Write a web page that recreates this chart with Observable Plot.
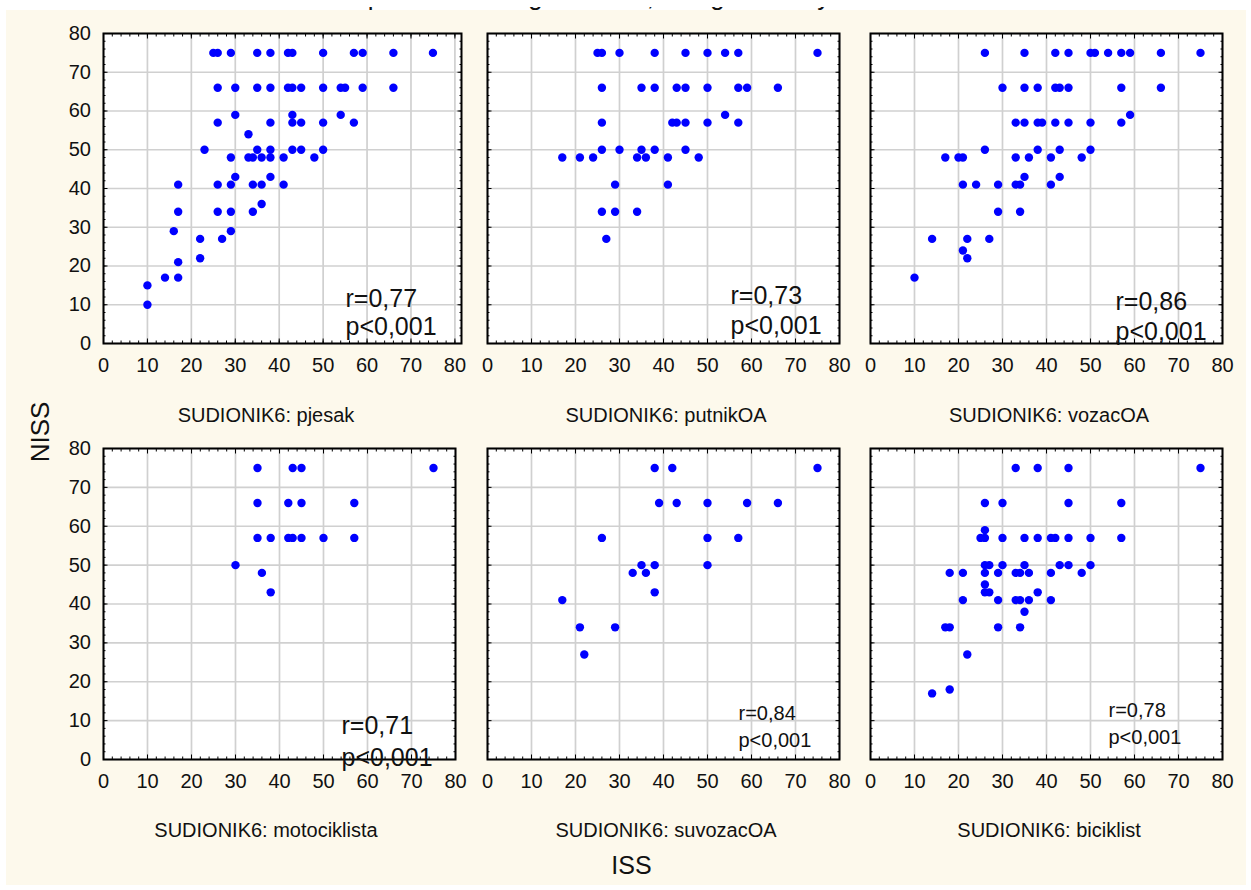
<!DOCTYPE html>
<html>
<head>
<meta charset="utf-8">
<script src="https://cdn.jsdelivr.net/npm/d3@7"></script>
<script src="https://cdn.jsdelivr.net/npm/@observablehq/plot@0.6"></script>
<style>
  html, body { margin: 0; padding: 0; background: #ffffff; }
  #page { position: relative; width: 1251px; height: 890px; overflow: hidden;
          font-family: "Liberation Sans", Arial, sans-serif; }
  #bg { position: absolute; left: 6px; top: 10px; width: 1240px; height: 875px; background: #fdf9ec; }
  #titleClip { position: absolute; left: 0; top: 7px; width: 1251px; height: 9px; overflow: hidden; }
  #title { position: absolute; left: 0; top: -24px; width: 1263px; text-align: center;
           font-size: 26px; line-height: 26px; color: #111; white-space: nowrap; }
  .panel { position: absolute; }
  #overlay { position: absolute; left: 0; top: 0; pointer-events: none; }
</style>
</head>
<body>
<div id="page">
  <div id="bg"></div>
  <div id="titleClip"><div id="title"></div></div>
</div>
<script>
// ---------- data ----------
const chartTitle = "Scatterplot of NISS against ISS; categorized by SUDIONIK6";
const xTitle = "ISS";
const yTitle = "NISS";
const groups = ["pjesak", "putnikOA", "vozacOA", "motociklista", "suvozacOA", "biciklist"];
const groupPrefix = "SUDIONIK6: ";
const rValues = ["r=0,77", "r=0,73", "r=0,86", "r=0,71", "r=0,84", "r=0,78"];
const pValue = "p<0,001";
const xTicks = [0, 10, 20, 30, 40, 50, 60, 70, 80];
const yTicks = [0, 10, 20, 30, 40, 50, 60, 70, 80];

// [ISS, NISS]
const pjesak = [
  [25,75],[26,75],[29,75],[35,75],[38,75],[42,75],[43,75],[50,75],[57,75],[59,75],[66,75],[75,75],
  [26,66],[30,66],[35,66],[38,66],[42,66],[43,66],[45,66],[50,66],[54,66],[55,66],[59,66],[66,66],
  [30,59],[43,59],[54,59],
  [26,57],[38,57],[43,57],[45,57],[50,57],[57,57],
  [33,54],
  [23,50],[35,50],[38,50],[43,50],[45,50],[50,50],
  [29,48],[33,48],[34,48],[36,48],[38,48],[41,48],[48,48],
  [30,43],[38,43],
  [17,41],[26,41],[29,41],[34,41],[36,41],[41,41],
  [36,36],
  [17,34],[26,34],[29,34],[34,34],
  [16,29],[29,29],
  [22,27],[27,27],
  [22,22],
  [17,21],
  [14,17],[17,17],
  [10,15],
  [10,10]
];
const putnikOA = [
  [25,75],[26,75],[30,75],[38,75],[45,75],[50,75],[54,75],[57,75],[75,75],
  [26,66],[35,66],[38,66],[43,66],[45,66],[50,66],[57,66],[59,66],[66,66],
  [54,59],
  [26,57],[42,57],[43,57],[45,57],[50,57],[57,57],
  [26,50],[30,50],[35,50],[38,50],[45,50],
  [17,48],[21,48],[24,48],[34,48],[36,48],[41,48],[48,48],
  [29,41],[41,41],
  [26,34],[29,34],[34,34],
  [27,27]
];
const vozacOA = [
  [26,75],[35,75],[42,75],[45,75],[50,75],[51,75],[54,75],[57,75],[59,75],[66,75],[75,75],
  [30,66],[35,66],[38,66],[42,66],[43,66],[45,66],[57,66],[66,66],
  [59,59],
  [33,57],[35,57],[38,57],[39,57],[42,57],[45,57],[50,57],[57,57],
  [26,50],[38,50],[43,50],[50,50],
  [17,48],[20,48],[21,48],[33,48],[36,48],[41,48],[48,48],
  [35,43],[43,43],
  [21,41],[24,41],[29,41],[33,41],[34,41],[41,41],
  [29,34],[34,34],
  [14,27],[22,27],[27,27],
  [21,24],
  [22,22],
  [10,17]
];
const motociklista = [
  [35,75],[43,75],[45,75],[75,75],
  [35,66],[42,66],[45,66],[57,66],
  [35,57],[38,57],[42,57],[43,57],[45,57],[50,57],[57,57],
  [30,50],
  [36,48],
  [38,43]
];
const suvozacOA = [
  [38,75],[42,75],[75,75],
  [39,66],[43,66],[50,66],[59,66],[66,66],
  [26,57],[50,57],[57,57],
  [35,50],[38,50],[50,50],
  [33,48],[36,48],
  [38,43],
  [17,41],
  [21,34],[29,34],
  [22,27]
];
const biciklist = [
  [33,75],[38,75],[45,75],[75,75],
  [26,66],[30,66],[45,66],[57,66],
  [26,59],
  [25,57],[26,57],[30,57],[35,57],[38,57],[41,57],[42,57],[45,57],[50,57],[57,57],
  [26,50],[27,50],[30,50],[35,50],[43,50],[45,50],[50,50],
  [18,48],[21,48],[26,48],[29,48],[33,48],[34,48],[36,48],[41,48],[48,48],
  [26,45],
  [26,43],[27,43],[38,43],
  [21,41],[29,41],[33,41],[34,41],[36,41],[41,41],
  [35,38],
  [17,34],[18,34],[29,34],[34,34],
  [22,27],
  [18,18],
  [14,17]
];
const panelData = [pjesak, putnikOA, vozacOA, motociklista, suvozacOA, biciklist];

// ---------- layout / style ----------
const FONT = "'Liberation Sans', Arial, sans-serif";
const ML = 60, MT = 10, MR = 14, MB = 50;
const layout = [
  {left: 103, top: 33,  w: 358, h: 310, xmax: 81.5, yLabels: true,  fs: 25, dx: 242, dyR: -37,   dyP: -9},
  {left: 487, top: 33,  w: 352, h: 310, xmax: 80,   yLabels: false, fs: 25, dx: 243, dyR: -40,   dyP: -10},
  {left: 870, top: 33,  w: 352, h: 310, xmax: 80,   yLabels: false, fs: 25, dx: 245, dyR: -33.5, dyP: -3.5},
  {left: 103, top: 448, w: 352, h: 311, xmax: 80,   yLabels: true,  fs: 25, dx: 238, dyR: -25.5, dyP: 6},
  {left: 487, top: 448, w: 352, h: 311, xmax: 80,   yLabels: false, fs: 20, dx: 251, dyR: -39.5, dyP: -13},
  {left: 870, top: 448, w: 352, h: 311, xmax: 80,   yLabels: false, fs: 20, dx: 238, dyR: -43,   dyP: -16}
];
const labelPos = [
  {x: 266, y: 421.5}, {x: 666, y: 421.5}, {x: 1049, y: 421.5},
  {x: 266, y: 836.5}, {x: 666, y: 836.5}, {x: 1049, y: 836.5}
];
const minorTicks = d3.range(0, 81, 2);

const page = document.getElementById("page");
document.getElementById("title").textContent = chartTitle;

panelData.forEach((data, i) => {
  const L = layout[i];
  const tickOnly = {tickFormat: () => "", label: null, stroke: "#000"};
  const chart = Plot.plot({
    width: L.w + ML + MR,
    height: L.h + MT + MB,
    marginLeft: ML, marginRight: MR, marginTop: MT, marginBottom: MB,
    x: {domain: [0, L.xmax]},
    y: {domain: [0, 80]},
    style: {background: "transparent", overflow: "visible", fontFamily: FONT, fontSize: "20px", color: "#111"},
    marks: [
      Plot.frame({fill: "#ffffff", stroke: null}),
      Plot.gridX(xTicks, {stroke: "#d0d0d0", strokeOpacity: 1, strokeWidth: 1.7}),
      Plot.gridY(yTicks, {stroke: "#d0d0d0", strokeOpacity: 1, strokeWidth: 1.7}),
      Plot.dot(data, {x: d => d[0], y: d => d[1], r: 4.2, fill: "#0000ff", stroke: null}),
      // inward minor & major ticks on all four sides
      Plot.axisX(minorTicks, {anchor: "top", tickSize: -2.5, ...tickOnly}),
      Plot.axisX(minorTicks, {anchor: "bottom", tickSize: -2.5, ...tickOnly}),
      Plot.axisY(minorTicks, {anchor: "left", tickSize: -2.5, ...tickOnly}),
      Plot.axisY(minorTicks, {anchor: "right", tickSize: -2.5, ...tickOnly}),
      Plot.axisX(xTicks, {anchor: "top", tickSize: -4.5, ...tickOnly}),
      Plot.axisX(xTicks, {anchor: "bottom", tickSize: -4.5, ...tickOnly}),
      Plot.axisY(yTicks, {anchor: "left", tickSize: -4.5, ...tickOnly}),
      Plot.axisY(yTicks, {anchor: "right", tickSize: -4.5, ...tickOnly}),
      Plot.frame({stroke: "#000", strokeWidth: 2}),
      // labelled axes
      Plot.axisX(xTicks, {anchor: "bottom", tickSize: 0, tickPadding: 14.5, fontSize: 20, label: null, fill: "#111"}),
      L.yLabels ? Plot.axisY(yTicks, {anchor: "left", tickSize: 0, tickPadding: 12.5, fontSize: 20, label: null, fill: "#111"}) : null,
      // statistics
      Plot.text([rValues[i]], {text: d => d, frameAnchor: "bottom-left", textAnchor: "start", lineAnchor: "bottom",
        dx: L.dx, dy: L.dyR, fontSize: L.fs, fill: "#111"}),
      Plot.text([pValue], {text: d => d, frameAnchor: "bottom-left", textAnchor: "start", lineAnchor: "bottom",
        dx: L.dx, dy: L.dyP, fontSize: L.fs, fill: "#111"})
    ]
  });
  chart.classList.add("panel");
  chart.style.left = (L.left - ML) + "px";
  chart.style.top = (L.top - MT) + "px";
  chart.style.maxWidth = "none";
  page.appendChild(chart);
});

// overlay text: panel labels and axis titles
const svg = d3.select(page).append("svg")
  .attr("id", "overlay").attr("width", 1251).attr("height", 890)
  .style("font-family", FONT).style("fill", "#111");
svg.selectAll("text.plab").data(groups).join("text")
  .attr("class", "plab")
  .attr("x", (d, i) => labelPos[i].x)
  .attr("y", (d, i) => labelPos[i].y)
  .attr("text-anchor", "middle")
  .attr("font-size", 20)
  .text(d => groupPrefix + d);
svg.append("text")
  .attr("transform", "translate(49,432) rotate(-90)")
  .attr("text-anchor", "middle").attr("font-size", 26)
  .text(yTitle);
svg.append("text")
  .attr("x", 631.5).attr("y", 873.5)
  .attr("text-anchor", "middle").attr("font-size", 25)
  .text(xTitle);
</script>
</body>
</html>
